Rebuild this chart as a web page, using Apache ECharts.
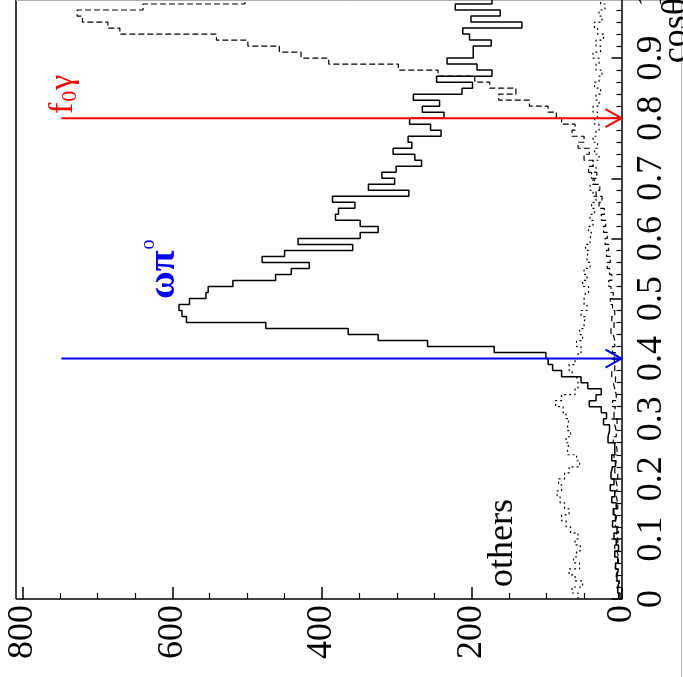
<!DOCTYPE html>
<html>
<head>
<meta charset="utf-8">
<script src="https://cdn.jsdelivr.net/npm/echarts@6/dist/echarts.min.js"></script>
<style>
  html, body { margin: 0; padding: 0; background: #ffffff; }
  #chart { width: 683px; height: 677px; }
</style>
</head>
<body>
<div id="chart"></div>
<script>
// cos(theta) histograms, 100 bins of width 0.01 on [0, 1]; counts per bin.
const binWidth = 0.01;
const countTicks = [0, 200, 400, 600, 800];
const cosTicks = [0, 0.1, 0.2, 0.3, 0.4, 0.5, 0.6, 0.7, 0.8, 0.9, 1];

// omega pi0 (solid)
const omegaPi0 = [
  2, 5, 3, 6, 4, 8, 5, 9, 4, 7,
  10, 6, 12, 8, 11, 7, 13, 9, 15, 10,
  14, 12, 8, 13, 9, 9, 18, 16, 16, 24,
  20, 27, 43, 34, 27, 45, 54, 80, 92, 98,
  101, 170, 259, 325, 365, 475, 581, 587, 591, 577,
  555, 552, 519, 462, 441, 417, 480, 450, 359, 432,
  349, 325, 349, 382, 378, 356, 386, 284, 338, 303,
  320, 301, 267, 276, 305, 280, 285, 241, 255, 283,
  237, 266, 243, 278, 213, 199, 247, 173, 193, 233,
  198, 198, 174, 203, 212, 133, 201, 162, 222, 173
];

// f0 gamma (dashed)
const f0Gamma = [
  4, 6, 3, 7, 5, 8, 4, 6, 9, 5,
  7, 4, 8, 6, 10, 5, 7, 9, 6, 8,
  5, 9, 7, 10, 6, 8, 11, 7, 9, 6,
  10, 8, 12, 7, 9, 11, 8, 13, 9, 10,
  8, 12, 9, 11, 14, 10, 13, 9, 12, 15,
  11, 14, 17, 13, 16, 19, 15, 20, 17, 22,
  19, 24, 21, 27, 23, 30, 26, 34, 29, 38,
  33, 44, 38, 50, 43, 58, 50, 66, 62, 80,
  87, 98, 123, 164, 141, 176, 196, 245, 298, 391,
  428, 457, 499, 541, 670, 686, 720, 727, 639, 503
];

// others (dotted)
const others = [
  58, 66, 52, 62, 70, 56, 64, 60, 55, 62,
  58, 68, 74, 80, 70, 76, 82, 86, 80, 84,
  76, 70, 56, 60, 72, 70, 74, 68, 72, 70,
  74, 78, 88, 80, 62, 58, 60, 66, 70, 62,
  58, 54, 60, 52, 56, 50, 48, 54, 46, 50,
  48, 44, 52, 46, 50, 42, 46, 44, 48, 42,
  40, 44, 38, 42, 36, 40, 34, 38, 42, 36,
  40, 34, 38, 30, 36, 32, 38, 34, 30, 36,
  32, 38, 30, 34, 28, 36, 30, 26, 34, 30,
  38, 28, 34, 24, 32, 36, 26, 30, 22, 28
];

// selection markers on cos(theta)
const markerCos = [0.4, 0.8];
const markerLength = 748;
const markerColors = ['#0000ff', '#ff0000'];

const SERIF = '"Liberation Serif", "Times New Roman", "DejaVu Serif", serif';

// Step outline of a histogram: each bin becomes a vertical run at its count.
function outline(values) {
  const pts = [];
  values.forEach(function (v, i) {
    const lo = +(i * binWidth).toFixed(2);
    const hi = +((i + 1) * binWidth).toFixed(2);
    pts.push([v, lo], [v, hi]);
  });
  return pts;
}

const measureCtx = document.createElement('canvas').getContext('2d');
function textWidth(str, size, weight) {
  measureCtx.font = (weight || 'normal') + ' ' + size + 'px ' + SERIF;
  return measureCtx.measureText(str).width;
}

// Text placed with its baseline at local y = 0 (zrender anchors 'bottom' at the em box bottom).
function txt(str, x, y, size, color, align, weight) {
  return {
    type: 'text',
    x: x,
    y: y + 0.21 * size,
    style: {
      text: str,
      fill: color,
      fontSize: size,
      fontFamily: SERIF,
      fontWeight: weight || 'normal',
      align: align || 'left',
      verticalAlign: 'bottom',
      textAlign: align || 'left',
      textVerticalAlign: 'bottom'
    }
  };
}

function arrowItem(params, api) {
  const cos = api.value(1);
  const start = api.coord([api.value(0), cos]);
  const end = api.coord([0, cos]);
  const color = markerColors[api.value(2)];
  return {
    type: 'group',
    children: [
      { type: 'line', shape: { x1: start[0], y1: start[1], x2: end[0], y2: end[1] },
        style: { stroke: color, lineWidth: 2 } },
      { type: 'polyline', shape: { points: [[end[0] - 16, end[1] - 9], [end[0], end[1]], [end[0] - 16, end[1] + 9]] },
        style: { stroke: color, lineWidth: 2, fill: null } }
    ]
  };
}

// Rotated annotations, reading upward along the cos(theta) direction.
function labelItem(params, api) {
  const p = api.coord([api.value(0), api.value(1)]);
  const kind = api.value(2);
  let children;
  if (kind === 0) {
    children = [txt('others', 0, 0, 36, '#000000')];
  } else if (kind === 1) {
    const w = textWidth('ωπ', 38, 'bold');
    children = [txt('ωπ', 0, 0, 38, '#0000ff', 'left', 'bold'), txt('o', w + 1, -21, 20, '#0000ff')];
  } else if (kind === 2) {
    const wf = textWidth('f', 34);
    const w0 = textWidth('0', 22);
    children = [
      txt('f', 0, 0, 34, '#ff0000'),
      txt('0', wf + 1, 3, 22, '#ff0000'),
      txt('γ', wf + w0 + 2, 0, 34, '#ff0000')
    ];
  } else {
    // axis title, right-aligned at the end of the cos(theta) axis
    children = [txt('cosθ', 0, 0, 36, '#000000', 'right')];
  }
  return { type: 'group', x: p[0], y: p[1], rotation: Math.PI / 2, children: children };
}

const chart = echarts.init(document.getElementById('chart'), null, { renderer: 'canvas' });

chart.setOption({
  animation: false,
  backgroundColor: '#ffffff',
  grid: { left: 22.5, right: 61.5, top: -2, bottom: 78, outerBoundsMode: 'none' },
  xAxis: {
    type: 'value',
    inverse: true,
    position: 'bottom',
    min: countTicks[0],
    max: countTicks[countTicks.length - 1],
    interval: countTicks[1] - countTicks[0],
    axisLine: { show: true, lineStyle: { color: '#000', width: 1.5 } },
    axisTick: { show: true, inside: true, length: 12, lineStyle: { color: '#000', width: 1.5 } },
    minorTick: { show: true, splitNumber: 4, length: 6, lineStyle: { color: '#000', width: 1.2 } },
    axisLabel: { rotate: 90, margin: 6, color: '#000', fontSize: 36, fontFamily: SERIF },
    splitLine: { show: false }
  },
  yAxis: {
    type: 'value',
    position: 'right',
    min: cosTicks[0],
    max: cosTicks[cosTicks.length - 1],
    interval: 0.1,
    axisLine: { show: true, lineStyle: { color: '#000', width: 1.5 } },
    axisTick: { show: true, inside: true, length: 10, lineStyle: { color: '#000', width: 1.5 } },
    minorTick: { show: true, splitNumber: 5, length: 5, lineStyle: { color: '#000', width: 1.2 } },
    axisLabel: { rotate: 90, margin: 12, color: '#000', fontSize: 36, fontFamily: SERIF },
    splitLine: { show: false }
  },
  graphic: [
    // frame left edge, top edge, and bottom edge out to the frame
    { type: 'line', shape: { x1: 16, y1: 0, x2: 16, y2: 599 }, style: { stroke: '#000', lineWidth: 1.5 } },
    { type: 'line', shape: { x1: 16, y1: 599, x2: 23, y2: 599 }, style: { stroke: '#000', lineWidth: 1.5 } },
    { type: 'line', shape: { x1: 16, y1: 0.5, x2: 683, y2: 0.5 }, style: { stroke: '#b0b0b0', lineWidth: 1 } },
    { type: 'line', shape: { x1: 681.5, y1: 0, x2: 681.5, y2: 677 }, style: { stroke: '#c0c0c0', lineWidth: 1 } }
  ],
  series: [
    {
      name: 'others', type: 'line', data: outline(others), showSymbol: false, symbol: 'none',
      lineStyle: { color: '#000', width: 1.2, type: [2, 3] }, z: 2
    },
    {
      name: 'f0 gamma', type: 'line', data: outline(f0Gamma), showSymbol: false, symbol: 'none',
      lineStyle: { color: '#000', width: 1.2, type: [6, 3] }, z: 3
    },
    {
      name: 'omega pi0', type: 'line', data: outline(omegaPi0), showSymbol: false, symbol: 'none',
      lineStyle: { color: '#000', width: 1.5 }, z: 4
    },
    {
      name: 'markers', type: 'custom', renderItem: arrowItem, clip: false, z: 5,
      data: markerCos.map(function (c, i) { return [markerLength, c, i]; })
    },
    {
      name: 'labels', type: 'custom', renderItem: labelItem, clip: false, z: 6,
      data: [[145, 0.02, 0], [596, 0.499, 1], [732, 0.807, 2], [-88, 1, 3]]
    }
  ]
});
</script>
</body>
</html>
